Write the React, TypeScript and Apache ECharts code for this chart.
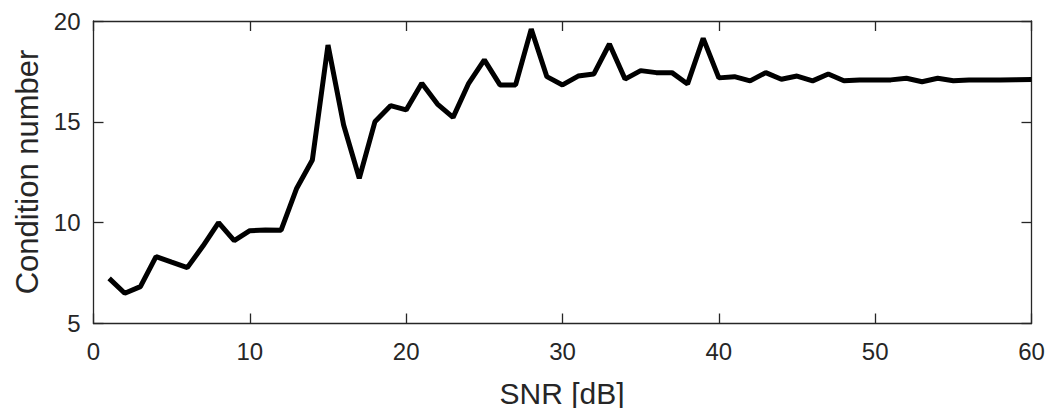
import React, { useEffect, useRef } from "react";
import * as echarts from "echarts";

const snr = [
  1, 2, 3, 4, 5, 6, 7, 8, 9, 10, 11, 12, 13, 14, 15, 16, 17, 18, 19, 20,
  21, 22, 23, 24, 25, 26, 27, 28, 29, 30, 31, 32, 33, 34, 35, 36, 37, 38, 39, 40,
  41, 42, 43, 44, 45, 46, 47, 48, 49, 50, 51, 52, 53, 54, 55, 56, 57, 58, 59, 60,
];
const conditionNumber = [
  7.24, 6.5, 6.83, 8.32, 8.04, 7.77, 8.84, 10.0, 9.11, 9.6,
  9.64, 9.63, 11.71, 13.11, 18.81, 14.84, 12.2, 15.0, 15.8, 15.59,
  16.91, 15.88, 15.22, 16.91, 18.07, 16.83, 16.83, 19.6, 17.24, 16.83,
  17.27, 17.37, 18.86, 17.12, 17.54, 17.44, 17.44, 16.88, 19.14, 17.18,
  17.24, 17.03, 17.44, 17.11, 17.27, 17.03, 17.37, 17.04, 17.08, 17.08,
  17.08, 17.16, 16.99, 17.16, 17.04, 17.08, 17.08, 17.08, 17.09, 17.1,
];
const xTitle = "SNR [dB]";
const yTitle = "Condition number";

const FONT = "'Liberation Sans', Arial, Helvetica, sans-serif";
const AX = "#262626";

export default function App() {
  const ref = useRef<HTMLDivElement>(null);
  useEffect(() => {
    if (!ref.current) return;
    const chart = echarts.init(ref.current, undefined, { renderer: "svg" });
    const left = 93.5, top = 21, right = 16.5, bottom = 84.5;
    const axisCommon = {
      axisLine: { show: true, onZero: false, lineStyle: { color: AX, width: 1.3 } },
      axisTick: { show: true, inside: true, length: 10, lineStyle: { color: AX, width: 1.3 } },
      splitLine: { show: false },
    };
    chart.setOption({
      animation: false,
      backgroundColor: "#ffffff",
      textStyle: { fontFamily: FONT },
      grid: { left, top, right, bottom, containLabel: false },
      xAxis: [
        {
          type: "value", min: 0, max: 60, interval: 10, position: "bottom",
          ...axisCommon,
          axisLabel: { show: true, color: AX, fontSize: 24, fontFamily: FONT, margin: 16 },
        },
        {
          type: "value", min: 0, max: 60, interval: 10, position: "top",
          ...axisCommon,
          axisLabel: { show: false },
        },
      ],
      yAxis: [
        {
          type: "value", min: 5, max: 20, interval: 5, position: "left",
          ...axisCommon,
          axisLabel: { show: true, color: AX, fontSize: 24, fontFamily: FONT, margin: 13 },
        },
        {
          type: "value", min: 5, max: 20, interval: 5, position: "right",
          ...axisCommon,
          axisLabel: { show: false },
        },
      ],
      graphic: [
        {
          type: "text", x: 562, y: 393,
          style: { text: xTitle, fill: AX, font: `30px ${FONT}`, textAlign: "center", textVerticalAlign: "middle" },
        },
        {
          type: "text", x: 27, y: 172, rotation: Math.PI / 2,
          style: { text: yTitle, fill: AX, font: `31px ${FONT}`, textAlign: "center", textVerticalAlign: "middle" },
        },
      ],
      series: [
        {
          type: "line",
          xAxisIndex: 0,
          yAxisIndex: 0,
          data: snr.map((s, i) => [s, conditionNumber[i]]),
          showSymbol: false,
          symbol: "none",
          lineStyle: { color: "#000000", width: 5 },
        },
      ],
    });
    return () => chart.dispose();
  }, []);
  return (
    <div
      ref={ref}
      style={{ position: "absolute", left: 0, top: 0, width: 1048, height: 408, background: "#fff" }}
    />
  );
}
